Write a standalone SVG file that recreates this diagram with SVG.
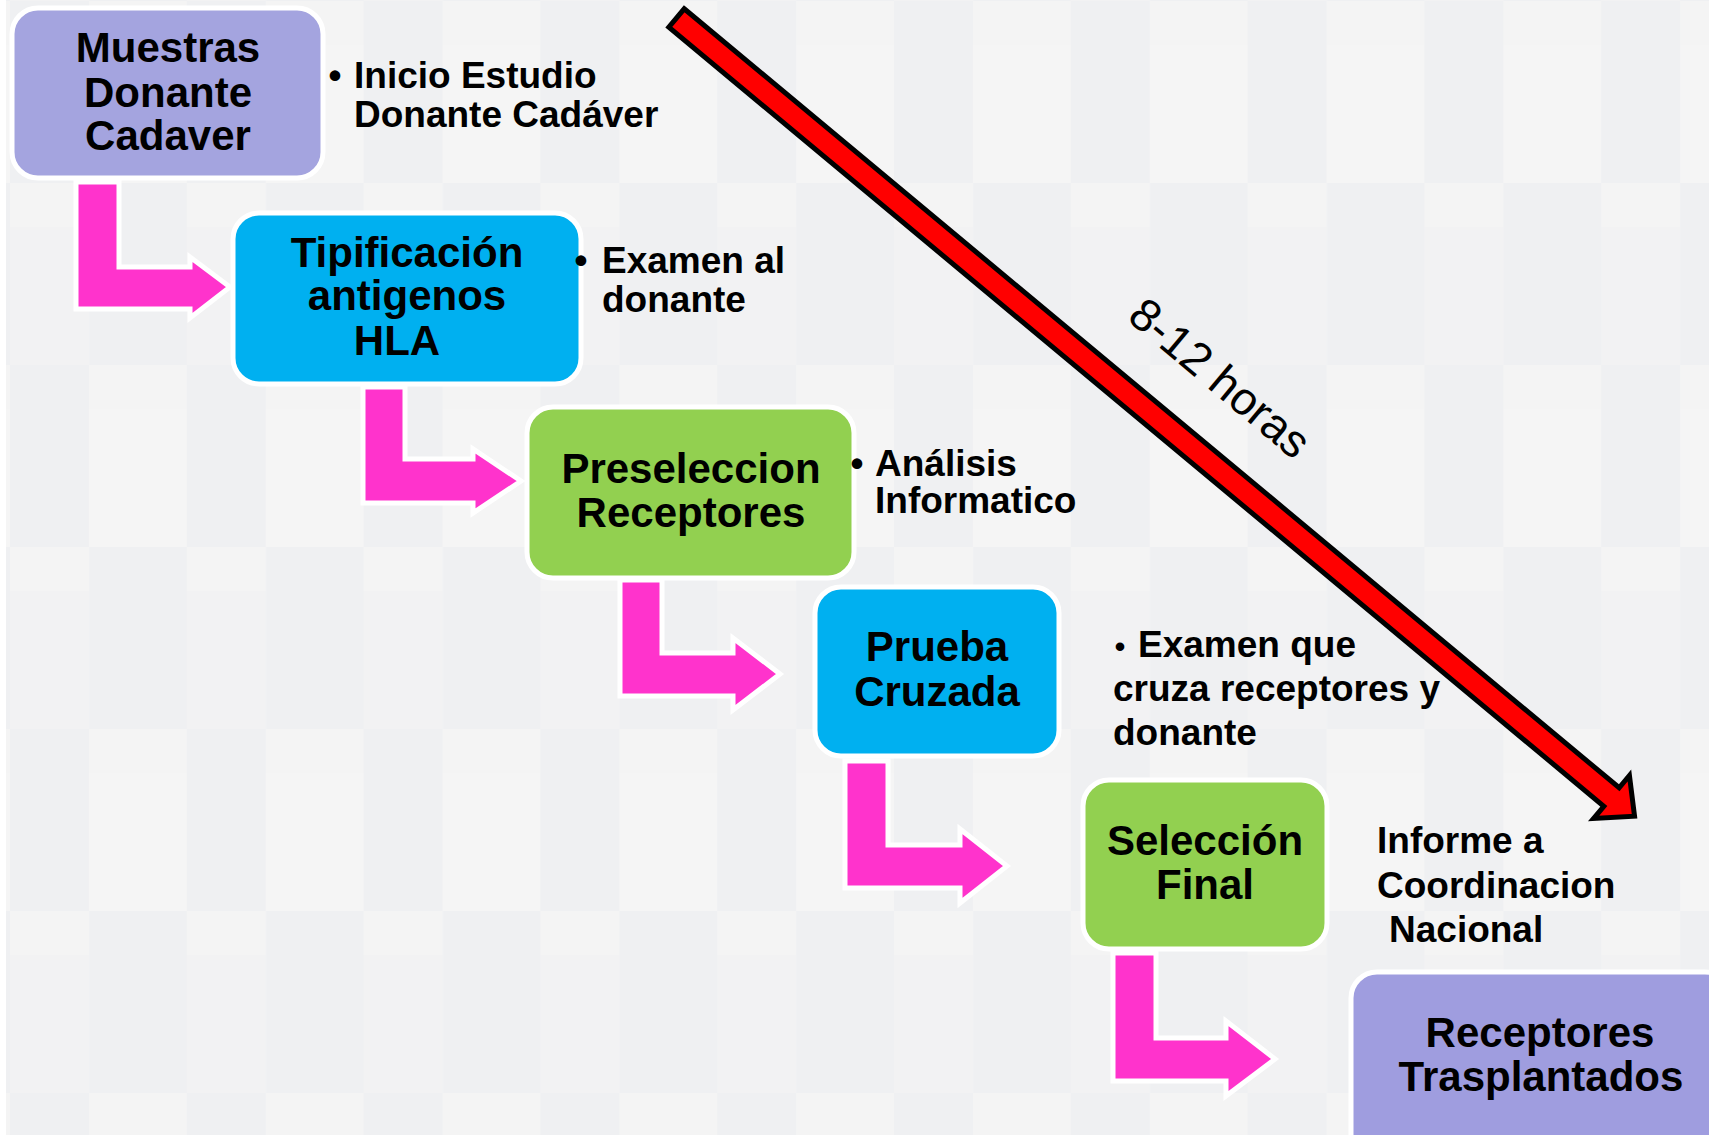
<svg xmlns="http://www.w3.org/2000/svg" width="1709" height="1135" viewBox="0 0 1709 1135">
<defs>
<style>
.node{stroke:#FFFFFF;stroke-width:5}
.t{font-family:"Liberation Sans",Arial,sans-serif;font-weight:bold;font-size:42px;fill:#000;text-anchor:middle}
.n{font-family:"Liberation Sans",Arial,sans-serif;font-weight:bold;font-size:37px;fill:#000}
.b{font-family:"Liberation Sans",Arial,sans-serif;font-weight:bold;font-size:37px;fill:#000;text-anchor:middle}
.pk{fill:#FF33CC;stroke:#FFFFFF;stroke-width:5;stroke-linejoin:miter}
</style>
<pattern id="bg" x="10" y="45" width="176.8" height="364" patternUnits="userSpaceOnUse">
<rect x="0" y="0" width="79" height="138" fill="#EFF0F2"/>
<rect x="0" y="138" width="79" height="44" fill="#F4F4F4"/>
<rect x="0" y="182" width="79" height="138" fill="#F2F2F3"/>
<rect x="0" y="320" width="79" height="44" fill="#EFF0F2"/>
<rect x="79" y="0" width="97.8" height="138" fill="#F5F5F5"/>
<rect x="79" y="138" width="97.8" height="44" fill="#EFF0F2"/>
<rect x="79" y="182" width="97.8" height="138" fill="#EFF0F2"/>
<rect x="79" y="320" width="97.8" height="44" fill="#F4F4F4"/>
</pattern>
</defs>
<rect x="0" y="0" width="1709" height="1135" fill="#FFFFFF"/>
<rect x="6" y="0" width="1703" height="1135" fill="url(#bg)"/>

<g id="connectors">
<polygon class="pk" points="76,182 119,182 119,267 190,267 190,257 230,287 190,318 190,309 76,309"/>
<polygon class="pk" points="363,387 405,387 405,459 473,459 473,449 521,481 473,513 473,503 363,503"/>
<polygon class="pk" points="620,580 662,580 662,653 733,653 733,638 780,674 733,710 733,696 620,696"/>
<polygon class="pk" points="845,761 888,761 888,845 960,845 960,829 1007,866 960,903 960,888 845,888"/>
<polygon class="pk" points="1113,953 1156,953 1156,1038 1226,1038 1226,1021 1275,1059 1226,1096 1226,1081 1113,1081"/>
</g>

<g id="timeline">
<polygon transform="translate(676.5,18) rotate(39.8)" points="0,-12 1217,-12 1217,-28 1247,0 1217,28 1217,12 0,12" fill="#FF0000" stroke="#000000" stroke-width="5" stroke-linejoin="miter"/>
<text transform="translate(1210,390) rotate(40)" text-anchor="middle" font-family="Liberation Sans, Arial, sans-serif" font-size="46" fill="#000">8-12 horas</text>
</g>

<g id="node-muestras">
<rect class="node" x="12" y="8" width="311" height="170" rx="26" fill="#A4A4DF"/>
<text class="t" x="168" y="62">Muestras</text>
<text class="t" x="168" y="107">Donante</text>
<text class="t" x="168" y="150">Cadaver</text>
</g>

<g id="node-tipificacion">
<rect class="node" x="233" y="213" width="348" height="171" rx="26" fill="#00B0F0"/>
<text class="t" x="407" y="267">Tipificación</text>
<text class="t" x="407" y="310">antigenos</text>
<text class="t" x="397" y="355">HLA</text>
</g>

<g id="node-preseleccion">
<rect class="node" x="527" y="407" width="327" height="171" rx="26" fill="#92D050"/>
<text class="t" x="691" y="483">Preseleccion</text>
<text class="t" x="691" y="527">Receptores</text>
</g>

<g id="node-prueba">
<rect class="node" x="815" y="587" width="244" height="169" rx="26" fill="#00B0F0"/>
<text class="t" x="937" y="661">Prueba</text>
<text class="t" x="937" y="706">Cruzada</text>
</g>

<g id="node-seleccion">
<rect class="node" x="1083" y="780" width="244" height="169" rx="26" fill="#92D050"/>
<text class="t" x="1205" y="855">Selección</text>
<text class="t" x="1205" y="899">Final</text>
</g>

<g id="node-receptores">
<rect class="node" x="1351" y="972" width="380" height="190" rx="26" fill="#9F9DDF"/>
<text class="t" x="1540" y="1047">Receptores</text>
<text class="t" x="1541" y="1091">Trasplantados</text>
</g>

<g id="notes">
<text class="b" x="335" y="88">•</text>
<text class="n" x="354" y="88">Inicio Estudio</text>
<text class="n" x="354" y="127">Donante Cadáver</text>

<text class="b" x="581" y="273">•</text>
<text class="n" x="602" y="273">Examen al</text>
<text class="n" x="602" y="312">donante</text>

<text class="b" x="857" y="476">•</text>
<text class="n" x="875" y="476">Análisis</text>
<text class="n" x="875" y="513">Informatico</text>

<text class="b" x="1120" y="657" style="font-size:30px">•</text>
<text class="n" x="1138" y="657">Examen que</text>
<text class="n" x="1113" y="701">cruza receptores y</text>
<text class="n" x="1113" y="745">donante</text>

<text class="n" x="1377" y="853">Informe a</text>
<text class="n" x="1377" y="898">Coordinacion</text>
<text class="n" x="1389" y="942">Nacional</text>
</g>
</svg>
